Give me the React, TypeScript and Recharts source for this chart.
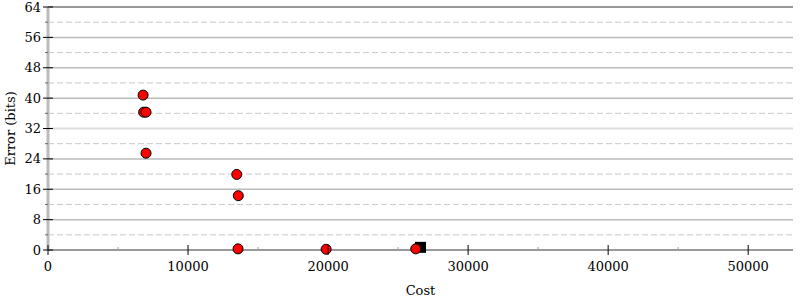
import { ScatterChart, Scatter, XAxis, YAxis, ReferenceLine, Label } from 'recharts';

// points
const costs = [6790, 6830, 7000, 7000, 13480, 13590, 13570, 19860, 26260];
const errors = [40.8, 36.3, 36.3, 25.5, 19.9, 14.3, 0.3, 0.2, 0.3];
const bestCost = [26600];
const bestError = [0.7];

const xTicks = [0, 5000, 10000, 15000, 20000, 25000, 30000, 35000, 40000, 45000, 50000];
const yTicks = [0, 4, 8, 12, 16, 20, 24, 28, 32, 36, 40, 44, 48, 52, 56, 60, 64];
const majorGrid = [8, 16, 24, 32, 40, 48, 56];
const minorGrid = [4, 12, 20, 28, 36, 44, 52, 60];

const points = costs.map((c, i) => ({ cost: c, error: errors[i] }));
const best = bestCost.map((c, i) => ({ cost: c, error: bestError[i] }));

const FONT = 'DejaVu Serif';
const FS = 13;
const textStyle = { fontFamily: FONT, fontStretch: 'normal' as const };

const XTick = ({ x, y, payload }: any) => {
  const major = payload.value % 10000 === 0;
  return (
    <g>
      {major ? (
        <line x1={x} x2={x} y1={y - 5} y2={y + 5} stroke="#000" strokeWidth={1} />
      ) : (
        <line x1={x} x2={x} y1={y - 3} y2={y} stroke="#999" strokeWidth={1} />
      )}
      {major && (
        <text x={x} y={y + 21} textAnchor="middle" fontSize={FS} style={textStyle} fill="#000">
          {payload.value}
        </text>
      )}
    </g>
  );
};

const LeftTick = ({ x, y, payload }: any) => {
  const major = payload.value % 8 === 0;
  return (
    <g>
      {major ? (
        <line x1={x - 5} x2={x + 5} y1={y} y2={y} stroke="#000" strokeWidth={1} />
      ) : (
        <line x1={x - 3} x2={x} y1={y} y2={y} stroke="#666" strokeWidth={1} />
      )}
      {major && (
        <text x={x - 7} y={y} dy={4.5} textAnchor="end" fontSize={FS} style={textStyle} fill="#000">
          {payload.value}
        </text>
      )}
    </g>
  );
};

const RightTick = ({ x, y, payload }: any) => {
  const major = payload.value % 8 === 0;
  return major ? (
    <line x1={x - 5} x2={x + 6} y1={y} y2={y} stroke="#000" strokeWidth={1} />
  ) : (
    <line x1={x - 1} x2={x + 2} y1={y} y2={y} stroke="#666" strokeWidth={1} />
  );
};

const Dot = ({ cx, cy }: any) => (
  <circle cx={cx} cy={cy} r={5} fill="#ff0000" stroke="#000" strokeWidth={1} />
);

const Square = ({ cx, cy }: any) => (
  <rect x={cx - 5.5} y={cy - 5.5} width={11} height={11} fill="#000" />
);

export default function App() {
  return (
    <div style={{ position: 'absolute', left: 0, top: 0, background: '#fff', fontFamily: FONT }}>
      <ScatterChart width={800} height={300} margin={{ top: 7, right: 7, bottom: 0, left: 0 }}>
        <XAxis
          type="number"
          dataKey="cost"
          domain={[0, 53200]}
          ticks={xTicks}
          interval={0}
          height={50}
          tickSize={0}
          tickMargin={0}
          tickLine={false}
          tick={<XTick />}
          axisLine={{ stroke: '#999', strokeWidth: 2 }}
        >
          <Label value="Cost" position="insideBottom" offset={5} fill="#000" fontSize={FS} style={textStyle} />
        </XAxis>
        <YAxis
          yAxisId="left"
          type="number"
          dataKey="error"
          domain={[0, 64]}
          ticks={yTicks}
          interval={0}
          width={48}
          tickSize={0}
          tickMargin={0}
          tickLine={false}
          tick={<LeftTick />}
          axisLine={{ stroke: '#bbb', strokeWidth: 3 }}
        >
          <Label value="Error (bits)" angle={-90} position="insideLeft" offset={10} fill="#000" fontSize={FS} style={{ ...textStyle, textAnchor: 'middle' }} />
        </YAxis>
        <YAxis
          yAxisId="right"
          orientation="right"
          type="number"
          domain={[0, 64]}
          ticks={yTicks}
          interval={0}
          width={0}
          tickSize={0}
          tickMargin={0}
          tickLine={false}
          tick={<RightTick />}
          axisLine={{ stroke: '#bbb', strokeWidth: 3 }}
        />
        {minorGrid.map(v => (
          <ReferenceLine key={'m' + v} yAxisId="left" y={v} stroke="#c8c8c8" strokeWidth={1} strokeDasharray="6 3" />
        ))}
        {majorGrid.map(v => (
          <ReferenceLine
            key={'M' + v}
            yAxisId="left"
            y={v}
            stroke={v === 32 ? '#ddd' : '#bbb'}
            strokeWidth={v === 32 ? 2 : 1.5}
          />
        ))}
        <ReferenceLine yAxisId="left" y={64} stroke="#999" strokeWidth={2} />
        <Scatter yAxisId="left" data={best} shape={<Square />} isAnimationActive={false} />
        <Scatter yAxisId="left" data={points} shape={<Dot />} isAnimationActive={false} />
      </ScatterChart>
    </div>
  );
}
